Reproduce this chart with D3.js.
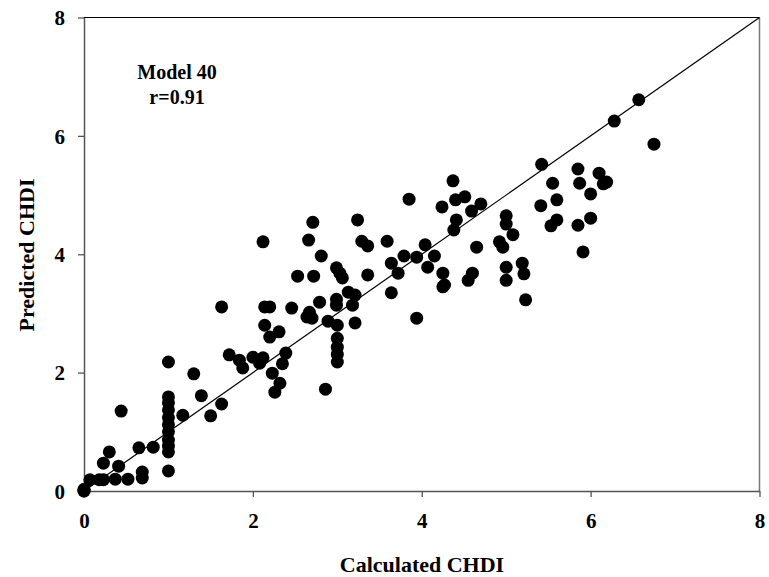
<!DOCTYPE html>
<html><head><meta charset="utf-8">
<script src="https://cdn.jsdelivr.net/npm/d3@7"></script>
<style>body{margin:0;background:#fff}svg text{font-family:"Liberation Serif","Times New Roman",serif;font-weight:bold}</style>
</head><body><svg id="c" width="769" height="577"></svg>
<script>
const calculated = [0,0,0,0.07,0.18,0.23,0.37,0.52,0.69,0.69,0.23,0.30,0.41,0.44,0.65,0.82,1.0,
 1.0,1.0,1.0,1.0,1.0,1.0,1.0,1.0,1.0,1.0,1.17,1.39,1.50,1.63,1.30,1.63,1.72,1.84,1.88,2.00,2.12,2.08,
 2.39,2.35,2.23,2.32,2.26,2.14,2.20,2.14,2.31,2.20,2.46,2.12,2.71,3.24,2.66,3.29,3.36,2.81,2.99,3.03,3.06,
 2.53,2.72,3.36,3.13,3.21,3.18,2.99,2.99,2.79,2.67,2.64,2.70,2.89,3.21,3.0,3.0,3.0,3.0,3.0,2.86,
 4.37,3.85,4.40,4.51,4.24,4.59,4.70,3.59,4.04,3.79,3.94,4.15,3.64,3.72,4.07,4.25,4.27,4.25,4.60,4.55,3.64,3.94,
 4.41,4.38,5.00,5.00,5.08,4.92,4.96,4.65,5.00,5.00,5.19,5.21,5.23,6.57,6.28,6.75,5.42,5.85,5.87,6.10,6.19,6.15,
 5.55,6.00,5.60,5.41,5.60,5.53,5.85,6.00,5.91];
const predicted = [0,0.03,0,0.19,0.19,0.19,0.20,0.20,0.32,0.22,0.47,0.66,0.42,1.35,0.73,0.74,0.34,
 1.59,1.49,1.37,1.24,1.12,1.00,0.86,0.76,0.66,2.18,1.28,1.61,1.27,1.47,1.98,3.11,2.30,2.21,2.08,2.26,2.25,2.16,
 2.33,2.15,1.99,1.82,1.67,3.11,3.11,2.80,2.69,2.60,3.09,4.21,4.54,4.58,4.24,4.22,4.14,3.97,3.77,3.68,3.60,
 3.63,3.63,3.65,3.36,3.31,3.14,3.24,3.14,3.19,3.02,2.94,2.92,2.87,2.84,2.80,2.58,2.43,2.31,2.18,1.72,
 5.24,4.93,4.92,4.97,4.80,4.73,4.85,4.22,4.16,3.97,3.95,3.97,3.85,3.68,3.78,3.68,3.48,3.45,3.68,3.56,3.35,2.92,
 4.58,4.41,4.65,4.51,4.33,4.21,4.12,4.12,3.78,3.56,3.85,3.67,3.23,6.61,6.25,5.86,5.52,5.44,5.20,5.37,5.22,5.19,
 5.20,5.02,4.92,4.82,4.58,4.48,4.49,4.61,4.04];
const ticks = [0,2,4,6,8];
const xTitle = "Calculated CHDI", yTitle = "Predicted CHDI";
const note = ["Model 40","r=0.91"];

const svg = d3.select("#c");
const x = d3.scaleLinear().domain([0,8]).range([84,759.5]);
const y = d3.scaleLinear().domain([0,8]).range([491,17.5]);

// frame
svg.append("line").attr("x1",x(0)).attr("x2",x(8)).attr("y1",y(8)).attr("y2",y(8)).attr("stroke","#000").attr("stroke-width",1.2);
svg.append("line").attr("x1",x(8)).attr("x2",x(8)).attr("y1",y(8)).attr("y2",y(0)).attr("stroke","#777").attr("stroke-width",1.5);

const xa = svg.append("g").attr("transform",`translate(0,${y(0)})`)
  .call(d3.axisBottom(x).tickValues(ticks).tickSize(6).tickSizeOuter(0).tickPadding(16));
const ya = svg.append("g").attr("transform",`translate(${x(0)},0)`)
  .call(d3.axisLeft(y).tickValues(ticks).tickSize(6).tickSizeOuter(0).tickPadding(13));
[xa,ya].forEach(g=>{
  g.select(".domain").attr("stroke","#555").attr("stroke-width",1.5);
  g.selectAll(".tick line").attr("stroke","#555").attr("stroke-width",1.3);
  g.selectAll(".tick text").attr("font-size",21).attr("fill","#000")
   .attr("font-family","Liberation Serif").attr("font-weight","bold");
});
ya.selectAll(".tick text").attr("dy","0.34em");

// identity line
svg.append("line").attr("x1",x(0)).attr("y1",y(0)).attr("x2",x(8)).attr("y2",y(8)).attr("stroke","#000").attr("stroke-width",1.2);

svg.append("g").selectAll("circle").data(calculated.map((v,i)=>[v,predicted[i]])).join("circle")
  .attr("cx",d=>x(d[0])).attr("cy",d=>y(d[1])).attr("r",6.5).attr("fill","#000");

svg.append("text").attr("x",422).attr("y",572).attr("text-anchor","middle").attr("font-size",22).text(xTitle);
svg.append("text").attr("transform","translate(34,255) rotate(-90)").attr("text-anchor","middle").attr("font-size",22).text(yTitle);
svg.append("text").attr("x",177).attr("y",79).attr("text-anchor","middle").attr("font-size",20).text(note[0]);
svg.append("text").attr("x",177).attr("y",104).attr("text-anchor","middle").attr("font-size",20).text(note[1]);
</script></body></html>
